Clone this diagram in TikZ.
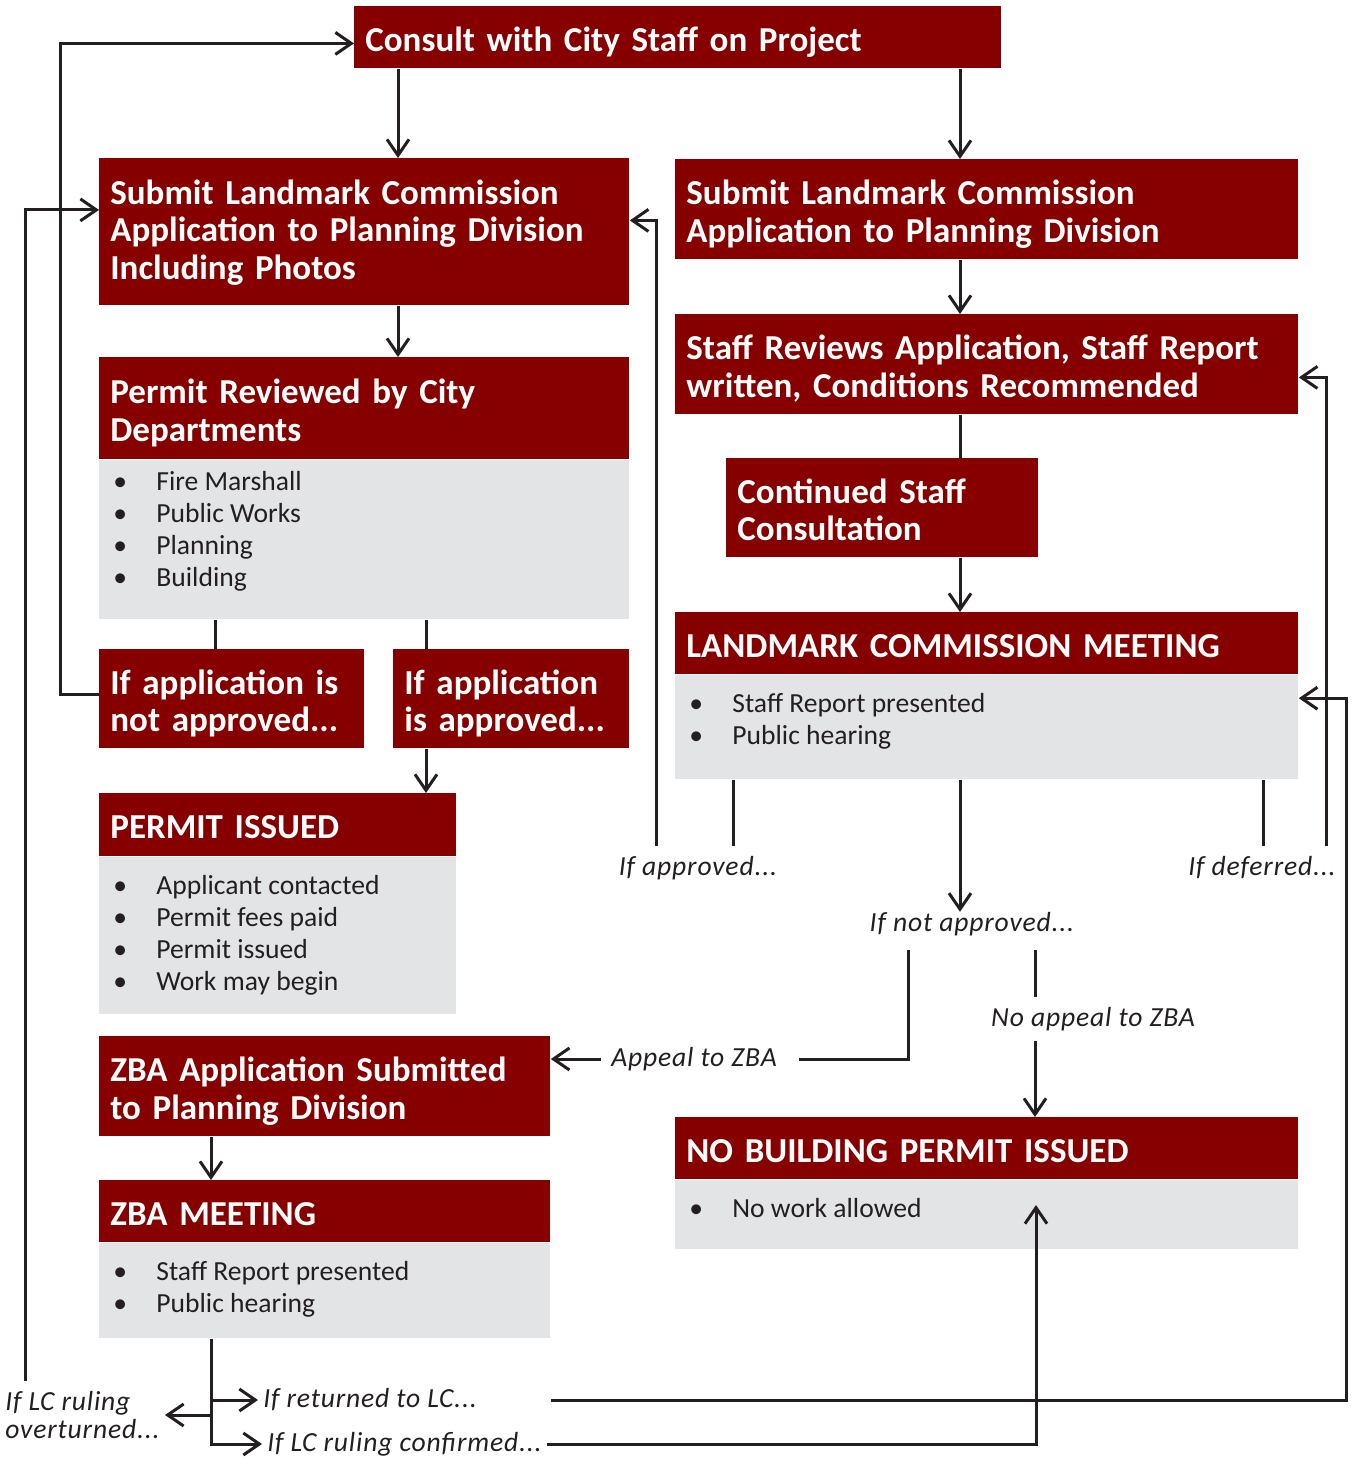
\documentclass[tikz,border=0pt]{standalone}
\usepackage{fontspec}
\setmainfont{Carlito}
\newfontfamily\lblfont[LetterSpace=3]{Carlito}
\usepackage{xcolor}
\usetikzlibrary{positioning,arrows.meta}

\definecolor{lcred}{HTML}{870000}
\definecolor{lcgray}{HTML}{E3E4E6}
\definecolor{lcline}{HTML}{231F20}

\newcommand{\hdrfont}{\bfseries\fontsize{17.5}{18.75}\selectfont}
\newcommand{\bodyfont}{\fontsize{13.8}{16}\selectfont}
\newcommand{\hstrut}{\rule{0pt}{17.5pt}\ignorespaces}
\newcommand{\hstrutend}{\unskip\rule[-3.5pt]{0pt}{3.5pt}}
\newcommand{\bitem}[1]{\par\hspace*{7pt}\makebox[21.5pt][l]{\textbullet}\strut#1}
\newcommand{\blist}[4]{\parbox[b][#2][t]{#1}{\vspace*{#3}#4}}

\begin{document}
\begin{tikzpicture}[
    x=0.5pt, y=-0.5pt,
    redbox/.style={
        fill=lcred,
        text=white,
        font=\hdrfont,
        align=left,
        inner xsep=5.5pt,
        inner ysep=0pt,
        anchor=north west,
        execute at begin node=\hstrut,
        execute at end node=\hstrutend
    },
    graybox/.style={
        fill=lcgray,
        text=lcline,
        font=\bodyfont,
        inner sep=0pt
    },
    lbl/.style={
        font=\lblfont\itshape\fontsize{13.8}{14}\selectfont,
        text=lcline,
        inner xsep=2.5pt,
        inner ysep=5pt
    },
    link/.style={line width=1.5pt, draw=lcline},
    arrow/.style={link, -{Straight Barb[length=8pt,width=11pt]}}
]
\useasboundingbox (0,0) rectangle (1351,1458);

\node[redbox, text width=312.5pt, minimum height=31pt] (consult) at (354,6) {
Consult with City Staff on Project
};

\node[redbox, text width=254pt, minimum height=73.5pt,
      execute at begin node={\rule{0pt}{14pt}\ignorespaces},
      execute at end node={\unskip\rule[-7.5pt]{0pt}{7.5pt}}] (subA) at (99,158) {
Submit Landmark Commission\\
Application to Planning Division\\
Including Photos
};

\node[redbox, text width=300.5pt, minimum height=50pt] (subB) at (675,159) {
Submit Landmark Commission\\
Application to Planning Division
};

\node[redbox, text width=300.5pt, minimum height=50pt] (review) at (675,314) {
Staff Reviews Application, Staff Report\\
written, Conditions Recommended
};

\node[redbox, text width=145pt, minimum height=49.5pt] (contd) at (726,458) {
Continued Staff\\
Consultation
};

\node[redbox, text width=300.5pt, minimum height=31pt] (lchead) at (675,612) {
LANDMARK COMMISSION MEETING
};
\node[graybox, below=0pt of lchead] (lcbody) {\blist{311.5pt}{52pt}{7.5pt}{%
\bitem{Staff Report presented}
\bitem{Public hearing}}};

\node[redbox, text width=254pt, minimum height=51pt] (prhead) at (99,357) {
Permit Reviewed by City\\
Departments
};
\node[graybox, below=0pt of prhead] (prbody) {\blist{265pt}{79.5pt}{4pt}{%
\bitem{Fire Marshall}
\bitem{Public Works}
\bitem{Planning}
\bitem{Building}}};

\node[redbox, text width=121.5pt, minimum height=49.5pt] (notok) at (99,649) {
If application is\\
not approved...
};

\node[redbox, text width=107pt, minimum height=49.5pt] (isok) at (393,649) {
If application\\
is approved...
};

\node[redbox, text width=167.5pt, minimum height=31.5pt] (pihead) at (99,793) {
PERMIT ISSUED
};
\node[graybox, below=0pt of pihead] (pibody) {\blist{178.5pt}{78.5pt}{7.5pt}{%
\bitem{Applicant contacted}
\bitem{Permit fees paid}
\bitem{Permit issued}
\bitem{Work may begin}}};

\node[redbox, text width=214.5pt, minimum height=50pt] (zbaapp) at (99,1036) {
ZBA Application Submitted\\
to Planning Division
};

\node[redbox, text width=214.5pt, minimum height=31pt] (zbahead) at (99,1180) {
ZBA MEETING
};
\node[graybox, below=0pt of zbahead] (zbabody) {\blist{225.5pt}{47.5pt}{7.5pt}{%
\bitem{Staff Report presented}
\bitem{Public hearing}}};

\node[redbox, text width=300.5pt, minimum height=31pt] (nbhead) at (675,1117) {
NO BUILDING PERMIT ISSUED
};
\node[graybox, below=0pt of nbhead] (nbbody) {\blist{311.5pt}{34.5pt}{7.5pt}{%
\bitem{No work allowed}}};

\node[lbl] (lblapproved) at (698,868) {If approved...};
\node[lbl] (lbldeferred) at (1262,868) {If deferred...};
\node[lbl] (lblnotappr) at (972,924) {If not approved...};
\node[lbl] (lblnoappeal) at (1093,1019) {No appeal to ZBA};
\node[lbl, inner xsep=5pt] (lblappeal) at (694,1059) {Appeal to ZBA};
\node[lbl, anchor=west] (lblreturned) at (258,1400) {If returned to LC...};
\node[lbl, anchor=west, inner ysep=1pt] (lblconfirmed) at (262,1444) {If LC ruling confirmed...};
\node[lbl, anchor=east, align=left] (lbloverturned) at (165,1415) {If LC ruling\\overturned...};

\coordinate (colA) at (398,0);
\coordinate (colB) at (960,0);
\coordinate (colC) at (215,0);
\coordinate (colD) at (426,0);
\coordinate (colE) at (211,0);
\coordinate (loopA) at (60,0);
\coordinate (loopB) at (25,0);
\coordinate (stubAp) at (733,0);
\coordinate (retAp) at (656,0);
\coordinate (stubDf) at (1263,0);
\coordinate (retDf) at (1326,0);
\coordinate (appX) at (908,0);
\coordinate (noapX) at (1035,0);
\coordinate (retX) at (1346,697);
\coordinate (nbtip) at (1036,1205);

\draw[arrow] (consult.south -| colA) -- (subA.north -| colA);
\draw[arrow] (consult.south -| colB) -- (subB.north -| colB);
\draw[arrow] (subB.south -| colB) -- (review.north -| colB);
\draw[link] (review.south -| colB) -- (contd.north -| colB);
\draw[arrow] (contd.south -| colB) -- (lchead.north -| colB);
\draw[arrow] (subA.south -| colA) -- (prhead.north -| colA);
\draw[link] (prbody.south -| colC) -- (notok.north -| colC);
\draw[link] (prbody.south -| colD) -- (isok.north -| colD);
\draw[arrow] (isok.south -| colD) -- (pihead.north -| colD);
\draw[arrow] ([yshift=2pt]notok.west) -- ([yshift=2pt]notok.west -| loopA) |- ([yshift=-3pt]consult.west);
\draw[arrow] (lbloverturned.north -| loopB) |- ([yshift=11pt]subA.west);

\draw[link] (lcbody.south -| stubAp) -- (lblapproved.north -| stubAp);
\draw[arrow] (lblapproved.north -| retAp) |- ([yshift=5.75pt]subA.east);
\draw[link] (lcbody.south -| stubDf) -- (lbldeferred.north -| stubDf);
\draw[arrow] (lbldeferred.north -| retDf) |- ([yshift=-6.5pt]review.east);
\draw[arrow, shorten >=-5pt] (lcbody.south -| colB) -- (lblnotappr.north -| colB);
\draw[link, shorten <=2pt, shorten >=6pt] (lblnotappr.south -| appX) |- (lblappeal.east);
\draw[arrow] (lblappeal.west) -- (lblappeal.west -| zbaapp.east);
\draw[link, shorten <=2pt] (lblnotappr.south -| noapX) -- (lblnoappeal.north -| noapX);
\draw[arrow] (lblnoappeal.south -| noapX) -- (nbhead.north -| noapX);

\draw[arrow] (zbaapp.south -| colE) -- (zbahead.north -| colE);
\draw[arrow] (zbabody.south -| colE) |- (lblconfirmed.west);
\draw[arrow] (colE |- lblreturned.west) -- (lblreturned.west);
\draw[arrow] (colE |- lbloverturned.east) -- (lbloverturned.east);
\draw[arrow] (lblreturned.east -| zbabody.east) -| (retX) |- ([yshift=14.5pt]lcbody.east);
\draw[arrow] (lblconfirmed.east) -| (nbtip);

\end{tikzpicture}
\end{document}
